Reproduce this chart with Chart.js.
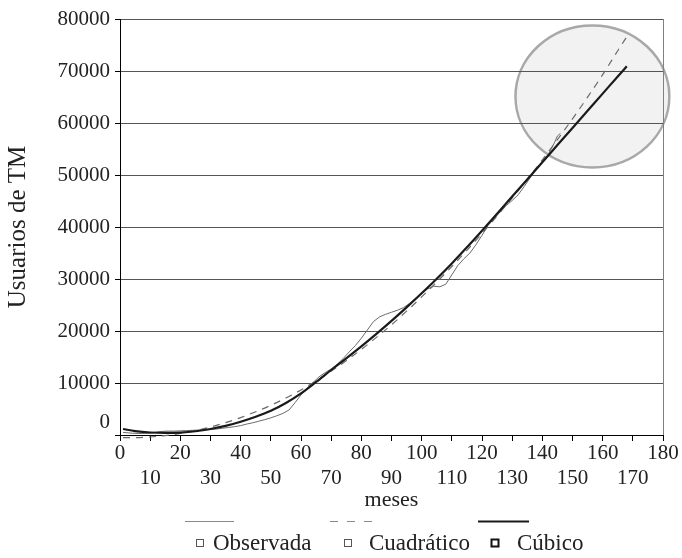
<!DOCTYPE html>
<html><head><meta charset="utf-8">
<script src="https://cdn.jsdelivr.net/npm/chart.js@4/dist/chart.umd.min.js"></script>
<style>html,body{margin:0;padding:0;background:#fff}</style>
</head><body>
<canvas id="c" width="682" height="558"></canvas>
<script>
// ---- data ----
const seriesNames = ['Observada', 'Cuadrático', 'Cúbico'];
const xAxisTitle = 'meses';
const yAxisTitle = 'Usuarios de TM';

const obsMonths = [1,2,4,6,8,10,12,14,16,18,20,22,24,26,28,30,32,34,36,38,40,42,44,46,48,50,52,54,56,58,60,62,64,66,68,70,72,74,76,78,80,82,84,86,88,90,92,94,96,98,100,102,104,106,108,110,112,114,116,118,120,122,124,126,128,130,132,134,136,138,140,142,144,145,146];
const obsValues = [500,450,350,300,300,350,550,700,750,750,800,850,900,950,1000,1050,1150,1300,1450,1600,1800,2100,2350,2650,2950,3300,3700,4150,4800,6200,7700,9000,10100,11200,12000,12700,13600,14700,16000,17200,18600,20200,21800,22700,23200,23600,24000,24500,25300,26300,27300,28100,28600,28500,29000,30800,32600,33900,35000,36600,38400,40300,41600,42900,44100,45100,46200,47800,49500,51200,52600,54000,56200,57500,58000];

const fitMonths = [1,5,10,15,20,25,30,35,40,45,50,55,60,65,70,75,80,85,90,95,100,105,110,115,120,125,130,135,140,145,150,155,160,165,168];
const quadValues = [-500,-500,-380,-110,300,840,1540,2370,3350,4470,5720,7110,8670,10400,12250,14300,16450,18780,21200,23820,26550,29420,32400,35520,38750,42120,45600,49200,52900,56800,60800,64980,69300,73900,76600];
const cubicValues = [1150,750,480,400,470,720,1150,1750,2550,3500,4650,6150,8000,10200,12500,14750,17050,19450,21950,24550,27250,30050,33000,36100,39300,42550,45850,49150,52450,55750,59050,62350,65650,68950,70900];

const yMin = 0, yMax = 80000, yStep = 10000;
const xMin = 0, xMax = 180, xStep = 10;

// highlight ellipse (data coordinates)
const ellipseCenter = [156.6, 65100];
const ellipseRadii = [25.5, 13650];

// ---- chart ----
Chart.defaults.font.family = '"Liberation Serif", "Times New Roman", serif';
Chart.defaults.color = '#222';

const toXY = (xs, ys) => xs.map((x, i) => ({x, y: ys[i]}));

const FONT = 21;
const BIG = 25;
const LEG = 23;

const decor = {
  id: 'decor',
  beforeDraw(chart) {
    const {ctx, scales: {x, y}} = chart;
    const cx = x.getPixelForValue(ellipseCenter[0]);
    const cy = y.getPixelForValue(ellipseCenter[1]);
    const rx = Math.abs(x.getPixelForValue(ellipseCenter[0] + ellipseRadii[0]) - cx);
    const ry = Math.abs(y.getPixelForValue(ellipseCenter[1] + ellipseRadii[1]) - cy);
    ctx.save();
    ctx.beginPath();
    ctx.ellipse(cx, cy, rx, ry, 0, 0, Math.PI * 2);
    ctx.fillStyle = '#f2f2f2';
    ctx.fill();
    ctx.lineWidth = 2.5;
    ctx.strokeStyle = '#a8a8a8';
    ctx.stroke();
    ctx.restore();
  },
  beforeDatasetsDraw(chart) {
    const {ctx, chartArea: a} = chart;
    ctx.save();
    ctx.strokeStyle = '#808080';
    ctx.lineWidth = 1;
    ctx.beginPath();
    ctx.moveTo(a.right + 0.5, a.top);
    ctx.lineTo(a.right + 0.5, a.bottom);
    ctx.stroke();
    ctx.restore();
  },
  afterDraw(chart) {
    const {ctx} = chart;
    const lineSpans = [[185, 234], [330, 373], [478, 529]];
    const boxX = [200, 348, 495];
    const textX = [213, 369, 517];
    const lineY = 521.5, rowY = 543;
    ctx.save();
    chart.data.datasets.forEach((ds, i) => {
      ctx.beginPath();
      ctx.setLineDash(ds.legendDash || ds.borderDash || []);
      ctx.strokeStyle = ds.legendLineColor || ds.borderColor;
      ctx.lineWidth = ds.borderWidth;
      ctx.moveTo(lineSpans[i][0], lineY);
      ctx.lineTo(lineSpans[i][1], lineY);
      ctx.stroke();
      ctx.setLineDash([]);
      ctx.fillStyle = '#fff';
      ctx.strokeStyle = i === 2 ? '#111' : '#555';
      ctx.lineWidth = i === 2 ? 2 : 1;
      ctx.fillRect(boxX[i] - 3.5, rowY - 3.5, 7, 7);
      ctx.strokeRect(boxX[i] - 3.5, rowY - 3.5, 7, 7);
      ctx.fillStyle = '#222';
      ctx.font = `${LEG}px "Liberation Serif"`;
      ctx.textBaseline = 'middle';
      ctx.textAlign = 'left';
      ctx.fillText(ds.label, textX[i], rowY + 1);
    });
    ctx.restore();
  }
};

new Chart(document.getElementById('c'), {
  type: 'line',
  data: {
    datasets: [
      {
        label: seriesNames[0],
        data: toXY(obsMonths, obsValues),
        borderColor: '#6a6a6a',
        legendLineColor: '#8a8a8a',
        borderWidth: 1,
        pointRadius: 0,
        tension: 0,
        clip: false,
        order: 3
      },
      {
        label: seriesNames[1],
        data: toXY(fitMonths, quadValues),
        borderColor: '#6a6a6a',
        legendLineColor: '#8a8a8a',
        borderWidth: 1.2,
        borderDash: [7, 6],
        legendDash: [8, 9],
        pointRadius: 0,
        cubicInterpolationMode: 'monotone',
        clip: false,
        order: 2
      },
      {
        label: seriesNames[2],
        data: toXY(fitMonths, cubicValues),
        borderColor: '#1a1a1a',
        borderWidth: 2.2,
        pointRadius: 0,
        cubicInterpolationMode: 'monotone',
        clip: false,
        order: 1
      }
    ]
  },
  options: {
    responsive: false,
    animation: false,
    events: [],
    layout: {padding: {left: 0, right: 19, top: 19, bottom: 41}},
    plugins: {legend: {display: false}, tooltip: {enabled: false}},
    scales: {
      x: {
        type: 'linear',
        min: xMin, max: xMax,
        afterFit(s) { s.height = 82; },
        ticks: {
          stepSize: xStep,
          autoSkip: false,
          maxRotation: 0,
          padding: 0,
          font: {size: FONT},
          callback: v => (v % 20 === 0 ? String(v) : ['', String(v)])
        },
        grid: {drawOnChartArea: false, drawTicks: true, tickLength: 6, color: '#000'},
        border: {color: '#000', width: 1},
        title: {display: true, text: xAxisTitle, font: {size: FONT + 1}, padding: {top: 0, bottom: 4}}
      },
      y: {
        min: yMin, max: yMax,
        afterFit(s) { s.width = 120; },
        ticks: {
          stepSize: yStep,
          autoSkip: false,
          padding: 5,
          font: {size: FONT},
          callback: v => (v === 0 ? ['0', ''] : String(v))
        },
        grid: {color: '#555', tickColor: '#000', tickLength: 5, drawTicks: true},
        border: {color: '#000', width: 1},
        title: {display: true, text: yAxisTitle, font: {size: BIG}, padding: {top: 3, bottom: 0}}
      }
    }
  },
  plugins: [decor]
});
</script>
</body></html>
